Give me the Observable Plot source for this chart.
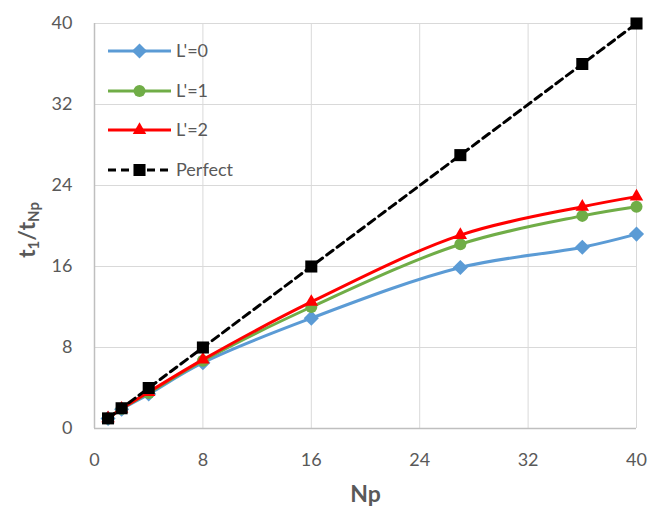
<!DOCTYPE html>
<html>
<head>
<meta charset="utf-8">
<script src="https://cdn.jsdelivr.net/npm/d3@7"></script>
<script src="https://cdn.jsdelivr.net/npm/@observablehq/plot@0.6"></script>
<style>
  body { margin: 0; background: #fff; }
  #wrap { position: relative; width: 651px; height: 515px; font-family: Lato, "Open Sans", sans-serif; }
  #ytitle { position: absolute; left: 27px; top: 230px; transform: translate(-50%, -50%) rotate(-90deg); font-weight: bold; font-size: 23px; color: #595959; white-space: nowrap; }
  #ytitle sub { font-size: 15px; vertical-align: -4px; }
  #legend { position: absolute; left: 0; top: 0; pointer-events: none; }
</style>
</head>
<body>
<div id="wrap"></div>
<script>
const np = [1, 2, 4, 8, 16, 27, 36, 40];
const l0 = [1, 1.9, 3.4, 6.5, 10.9, 15.9, 17.9, 19.2];
const l1 = [1, 1.95, 3.5, 6.7, 12.0, 18.2, 21.0, 21.9];
const l2 = [1, 1.95, 3.6, 6.8, 12.5, 19.1, 21.9, 22.9];
const perfect = [1, 2, 4, 8, 16, 27, 36, 40];
const seriesNames = ["L'=0", "L'=1", "L'=2", "Perfect"];
const colors = ["#5B9BD5", "#70AD47", "#FF0000", "#000000"];
const symbols = ["diamond2", "circle", "triangle", "square"];
const ticks = [0, 8, 16, 24, 32, 40];

const symbolR = { diamond2: 6.8, circle: 6, triangle: 5, square: 6.8 };
const d3sym = { diamond2: d3.symbolDiamond2, circle: d3.symbolCircle, triangle: d3.symbolTriangle, square: d3.symbolSquare };

const series = [l0, l1, l2, perfect];
const rows = series.map((vals, i) => np.map((x, j) => ({ x, y: vals[j], s: seriesNames[i] })));

const marks = [
  Plot.gridX(ticks, { stroke: "#d9d9d9", strokeOpacity: 1, strokeWidth: 1 }),
  Plot.gridY(ticks, { stroke: "#d9d9d9", strokeOpacity: 1, strokeWidth: 1 }),
  Plot.ruleY([0], { stroke: "#bfbfbf", strokeWidth: 1.5 }),
  Plot.ruleX([0], { stroke: "#bfbfbf", strokeWidth: 1.5 }),
  Plot.axisX(ticks, { tickSize: 0, tickPadding: 25, fontSize: 18, fill: "#595959", label: null }),
  Plot.axisY(ticks, { tickSize: 0, tickPadding: 22, fontSize: 18, fill: "#595959", label: null }),
];
rows.forEach((data, i) => {
  marks.push(Plot.line(data, {
    x: "x", y: "y", stroke: colors[i], strokeWidth: 3,
    curve: "catmull-rom",
    strokeDasharray: i === 3 ? "8,5" : null
  }));
  marks.push(Plot.dot(data, {
    x: "x", y: "y", symbol: () => symbols[i], fill: colors[i], stroke: "none",
    r: symbolR[symbols[i]]
  }));
});
marks.push(Plot.text(["Np"], { frameAnchor: "bottom", dy: 73, fontSize: 23, fontWeight: "bold", fill: "#595959" }));

const chart = Plot.plot({
  width: 651, height: 515,
  marginLeft: 94, marginRight: 15, marginTop: 23, marginBottom: 87,
  x: { domain: [0, 40] },
  y: { domain: [0, 40] },
  style: { fontFamily: "Lato, 'Open Sans', sans-serif", background: "#fff", overflow: "visible" },
  marks
});
const wrap = document.getElementById("wrap");
wrap.appendChild(chart);

const yt = document.createElement("div");
yt.id = "ytitle";
yt.innerHTML = "t<sub>1</sub>/t<sub>Np</sub>";
wrap.appendChild(yt);

// Legend overlay
const leg = d3.create("svg").attr("id", "legend").attr("width", 651).attr("height", 515);
const legY = [51, 91, 130, 170];
seriesNames.forEach((name, i) => {
  const g = leg.append("g").attr("transform", `translate(0,${legY[i]})`);
  g.append("line").attr("x1", 108).attr("x2", 171).attr("y1", 0).attr("y2", 0)
    .attr("stroke", colors[i]).attr("stroke-width", 3)
    .attr("stroke-dasharray", i === 3 ? "8,5" : null);
  const r = symbolR[symbols[i]];
  g.append("path").attr("transform", "translate(139.5,0)").attr("d", d3.symbol(d3sym[symbols[i]], Math.PI * r * r)()).attr("fill", colors[i]);
  g.append("text").attr("x", 176).attr("y", 0).attr("dy", "0.35em")
    .attr("font-size", 18).attr("fill", "#595959")
    .attr("font-family", "Lato, 'Open Sans', sans-serif").text(name);
});
wrap.appendChild(leg.node());
</script>
</body>
</html>
